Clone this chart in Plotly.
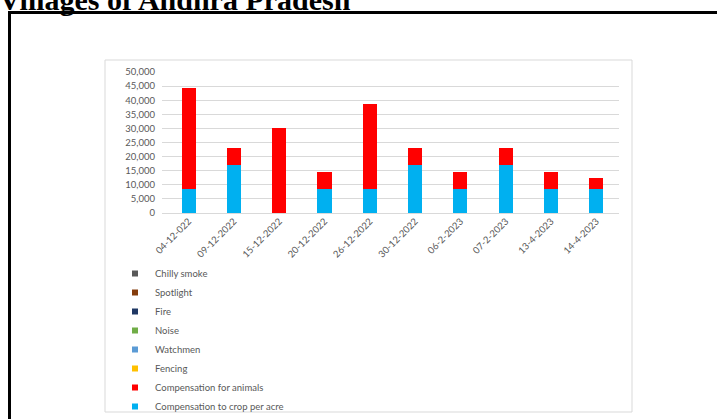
import plotly.graph_objects as go

categories = ["04-12-022", "09-12-2022", "15-12-2022", "20-12-2022", "26-12-2022",
              "30-12-2022", "06-2-2023", "07-2-2023", "13-4-2023", "14-4-2023"]
crop_per_acre = [8500, 17000, 0, 8500, 8500, 17000, 8500, 17000, 8500, 8500]
comp_animals = [36000, 6000, 30000, 6000, 30000, 6000, 6000, 6000, 6000, 4000]
fencing = [0] * 10
watchmen = [0] * 10
noise = [0] * 10
fire = [0] * 10
spotlight = [0] * 10
chilly_smoke = [0] * 10

y_ticks = [0, 5000, 10000, 15000, 20000, 25000, 30000, 35000, 40000, 45000, 50000]

# stacking order (bottom -> top)
series = [
    ("Compensation to crop per acre", crop_per_acre, "#00B0F0"),
    ("Compensation for animals", comp_animals, "#FF0000"),
    ("Fencing", fencing, "#FFC000"),
    ("Watchmen", watchmen, "#5B9BD5"),
    ("Noise", noise, "#70AD47"),
    ("Fire", fire, "#1F3864"),
    ("Spotlight", spotlight, "#843C0C"),
    ("Chilly smoke", chilly_smoke, "#595959"),
]

W, H = 717, 419
L, R, T, B = 162, 98, 72, 206
PW = W - L - R
PH = H - T - B


def px(x):
    return (x - L) / PW


def py(y):
    return (H - B - y) / PH


fig = go.Figure()
for name, vals, col in series:
    fig.add_trace(go.Bar(x=categories, y=vals, name=name, marker_color=col,
                         marker_line_width=0, legendgroup=name, showlegend=False))

# legend entries (top -> bottom)
for name, vals, col in reversed(series):
    fig.add_trace(go.Scatter(x=[categories[0]], y=[None], mode="markers", name=name,
                             legendgroup=name,
                             marker=dict(symbol="square", size=6, color=col)))

tick_font = dict(family="Lato, Open Sans, sans-serif", size=9.5, color="#595959")

fig.update_layout(
    width=W, height=H,
    margin=dict(l=L, r=R, t=T, b=B, pad=0, autoexpand=False),
    paper_bgcolor="white", plot_bgcolor="white",
    barmode="stack", bargap=0.69,
    showlegend=True,
    legend=dict(orientation="v", x=px(115), y=py(259), xanchor="left", yanchor="top",
                traceorder="normal", font=tick_font, bgcolor="rgba(0,0,0,0)",
                itemclick=False),
    xaxis=dict(tickangle=-45, tickfont=tick_font, showgrid=False, showline=False,
               ticks="", automargin=False),
    yaxis=dict(range=[0, 50000], tickvals=y_ticks, tickformat=",", tickfont=tick_font,
               showgrid=True, gridcolor="#D9D9D9", gridwidth=1, zeroline=True,
               zerolinecolor="#D9D9D9", zerolinewidth=1, showline=False, ticks="",
               ticklabelstandoff=6, automargin=False),
    shapes=[
        dict(type="rect", xref="paper", yref="paper", x0=px(105), x1=px(632),
             y0=py(60), y1=py(412), line=dict(color="#D9D9D9", width=1), layer="below"),
        dict(type="line", xref="paper", yref="paper", x0=px(8), x1=px(720),
             y0=py(12.5), y1=py(12.5), line=dict(color="black", width=3)),
        dict(type="line", xref="paper", yref="paper", x0=px(9.5), x1=px(9.5),
             y0=py(11), y1=py(425), line=dict(color="black", width=3)),
    ],
    annotations=[
        dict(text="<b>Villages of Andhra Pradesh</b>", xref="paper", yref="paper",
             x=px(-3), y=py(18.5), xanchor="left", yanchor="bottom", showarrow=False,
             font=dict(family="Liberation Serif, Times New Roman, serif", size=30,
                       color="black")),
    ],
)

fig.write_html("out.html", config={"displayModeBar": False},
               post_script="document.body.style.margin='0px';")
